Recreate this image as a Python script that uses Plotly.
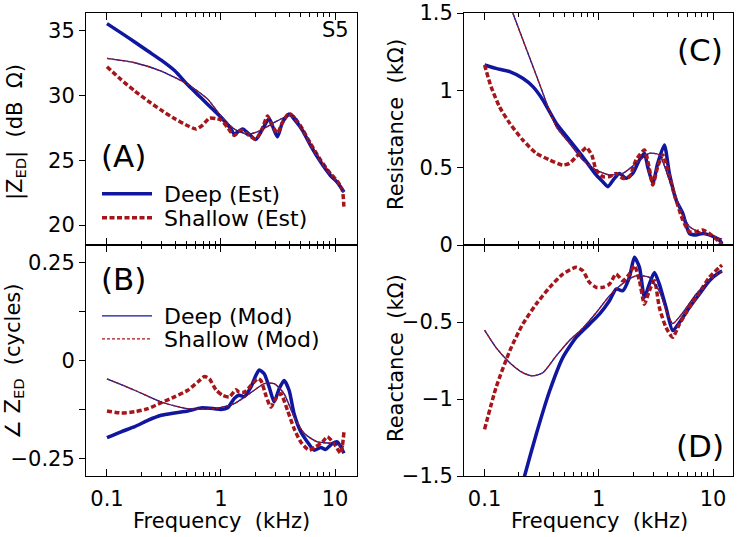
import plotly.graph_objects as go

# ---------------- data ----------------
# Panel A: |Z_ED| (dB Ohm)
A_deep_f = [0.1, 0.133, 0.175, 0.228, 0.299, 0.391, 0.511, 0.668, 0.874, 1.0, 1.223, 1.308, 1.547, 1.77, 2.024, 2.314, 2.647, 2.927, 3.13, 3.461, 3.958, 4.527, 5.18, 6.13, 7.49, 9.16, 10.48, 11.99]
A_deep = [35.51, 34.8, 34.1, 33.4, 32.7, 31.9, 30.8, 29.8, 28.8, 28.3, 27.4, 27.0, 27.4, 27.0, 26.6, 27.4, 28.2, 27.3, 26.8, 27.9, 28.55, 28.0, 27.3, 26.1, 24.85, 23.8, 23.3, 22.55]
A_sh_f = [0.1, 0.133, 0.175, 0.228, 0.299, 0.391, 0.511, 0.604, 0.691, 0.791, 0.904, 1.0, 1.144, 1.308, 1.496, 1.77, 2.024, 2.314, 2.559, 2.83, 3.13, 3.461, 3.958, 4.527, 5.18, 6.13, 7.49, 9.16, 10.48, 11.59, 11.99]
A_sh = [32.19, 31.2, 30.33, 29.57, 28.85, 28.2, 27.65, 27.4, 27.7, 28.24, 28.2, 28.1, 27.5, 26.9, 27.3, 26.9, 26.6, 27.5, 28.4, 27.6, 27.1, 27.9, 28.6, 28.15, 27.4, 26.25, 25.0, 23.95, 23.4, 22.7, 21.3]
A_mod_f = [0.1, 0.175, 0.299, 0.511, 0.764, 1.0, 1.308, 1.711, 2.238, 2.927, 3.828, 4.377, 5.18, 6.13, 7.49, 9.16, 11.99]
A_mod = [32.83, 32.5, 31.86, 30.84, 29.7, 28.4, 27.4, 27.0, 27.3, 27.9, 28.4, 28.4, 27.4, 26.25, 25.0, 23.95, 22.55]

# Panel B: angle Z_ED (cycles)
B_deep_f = [0.1, 0.133, 0.175, 0.228, 0.299, 0.391, 0.511, 0.668, 0.874, 1.0, 1.144, 1.308, 1.446, 1.6, 1.829, 2.024, 2.164, 2.393, 2.647, 2.927, 3.237, 3.579, 3.958, 4.377, 5.01, 5.73, 6.55, 7.49, 8.28, 9.48, 10.48, 11.99]
B_deep = [-0.197, -0.182, -0.169, -0.153, -0.14, -0.134, -0.129, -0.121, -0.123, -0.125, -0.121, -0.097, -0.089, -0.092, -0.068, -0.038, -0.024, -0.034, -0.068, -0.106, -0.072, -0.051, -0.076, -0.136, -0.182, -0.208, -0.229, -0.222, -0.227, -0.212, -0.208, -0.237]
B_sh_f = [0.1, 0.133, 0.175, 0.228, 0.299, 0.391, 0.511, 0.625, 0.715, 0.791, 0.904, 1.034, 1.183, 1.353, 1.446, 1.6, 1.829, 2.093, 2.238, 2.475, 2.737, 3.027, 3.347, 3.828, 4.377, 5.01, 5.93, 6.78, 7.75, 8.57, 9.8, 11.21, 11.99]
B_sh = [-0.129, -0.134, -0.131, -0.123, -0.108, -0.093, -0.076, -0.055, -0.041, -0.047, -0.075, -0.089, -0.093, -0.075, -0.081, -0.081, -0.064, -0.047, -0.051, -0.089, -0.119, -0.097, -0.085, -0.127, -0.174, -0.208, -0.229, -0.22, -0.208, -0.195, -0.212, -0.237, -0.182]
B_mod_f = [0.1, 0.175, 0.299, 0.511, 0.874, 1.308, 1.957, 2.393, 2.927, 3.579, 4.377, 5.36, 7.0, 9.8, 11.99]
B_mod = [-0.047, -0.076, -0.106, -0.123, -0.123, -0.110, -0.076, -0.059, -0.059, -0.085, -0.144, -0.186, -0.208, -0.212, -0.22]

# Panel C: Resistance (kOhm)
C_deep_f = [0.1, 0.126, 0.166, 0.216, 0.265, 0.324, 0.424, 0.554, 0.724, 0.948, 1.084, 1.199, 1.371, 1.516, 1.734, 1.983, 2.27, 2.51, 2.68, 2.97, 3.28, 3.75, 4.15, 4.75, 5.43, 6.21, 7.10, 8.12, 9.29, 11.35, 12.0]
C_deep = [1.164, 1.142, 1.121, 1.078, 1.024, 0.938, 0.787, 0.679, 0.571, 0.453, 0.409, 0.377, 0.431, 0.463, 0.431, 0.463, 0.55, 0.593, 0.506, 0.399, 0.528, 0.647, 0.463, 0.291, 0.205, 0.075, 0.065, 0.075, 0.065, 0.032, 0.01]
C_sh_f = [0.1, 0.114, 0.135, 0.166, 0.216, 0.283, 0.371, 0.484, 0.554, 0.634, 0.724, 0.78, 0.87, 0.948, 1.084, 1.24, 1.418, 1.622, 1.854, 2.12, 2.51, 2.77, 2.97, 3.28, 3.63, 4.15, 4.75, 5.43, 6.21, 7.10, 8.12, 9.29, 11.35, 12.0]
C_sh = [1.164, 1.024, 0.894, 0.787, 0.679, 0.593, 0.55, 0.517, 0.528, 0.571, 0.61, 0.63, 0.58, 0.485, 0.442, 0.442, 0.463, 0.431, 0.442, 0.55, 0.614, 0.496, 0.388, 0.506, 0.582, 0.442, 0.291, 0.162, 0.086, 0.086, 0.097, 0.075, 0.02, 0.0]
C_mod_f = [0.1, 0.177, 0.283, 0.424, 0.554, 0.724, 0.948, 1.24, 1.622, 2.12, 2.77, 3.39, 4.15, 5.08, 6.21, 8.12, 11.35, 12.0]
C_mod = [1.976, 1.498, 1.099, 0.765, 0.657, 0.55, 0.485, 0.453, 0.463, 0.528, 0.593, 0.582, 0.42, 0.248, 0.119, 0.075, 0.043, 0.04]

# Panel D: Reactance (kOhm)
D_deep_f = [0.1, 0.15, 0.2, 0.224, 0.283, 0.371, 0.484, 0.634, 0.829, 1.013, 1.24, 1.418, 1.622, 1.854, 2.05, 2.27, 2.51, 2.77, 3.07, 3.39, 3.88, 4.44, 5.08, 6.21, 7.59, 9.29, 11.35, 12.0]
D_deep = [-2.6, -2.0, -1.65, -1.5, -1.23, -0.948, -0.731, -0.60, -0.514, -0.449, -0.362, -0.286, -0.297, -0.21, -0.08, -0.145, -0.34, -0.254, -0.178, -0.254, -0.406, -0.556, -0.503, -0.406, -0.319, -0.232, -0.178, -0.17]
D_sh_f = [0.1, 0.126, 0.166, 0.216, 0.283, 0.371, 0.484, 0.634, 0.724, 0.829, 0.948, 1.084, 1.24, 1.418, 1.622, 1.854, 2.05, 2.27, 2.51, 2.77, 3.07, 3.39, 3.88, 4.44, 5.08, 6.21, 7.59, 9.29, 11.35, 12.0]
D_sh = [-1.197, -0.926, -0.688, -0.514, -0.384, -0.275, -0.189, -0.145, -0.167, -0.243, -0.275, -0.275, -0.254, -0.189, -0.232, -0.189, -0.134, -0.232, -0.384, -0.297, -0.232, -0.406, -0.536, -0.599, -0.514, -0.406, -0.308, -0.21, -0.145, -0.13]
D_mod_f = [0.1, 0.126, 0.166, 0.216, 0.265, 0.324, 0.424, 0.554, 0.724, 0.948, 1.24, 1.622, 2.12, 2.77, 3.39, 3.88, 4.44, 5.43, 7.10, 9.29, 11.35, 12.0]
D_mod = [-0.553, -0.666, -0.764, -0.829, -0.85, -0.829, -0.72, -0.62, -0.54, -0.44, -0.33, -0.25, -0.2, -0.21, -0.3, -0.42, -0.51, -0.44, -0.32, -0.23, -0.18, -0.17]

x_major = [0.1, 1, 10]
x_major_text = ["0.1", "1", "10"]
x_minor = [0.2, 0.3, 0.4, 0.5, 0.6, 0.7, 0.8, 0.9, 2, 3, 4, 5, 6, 7, 8, 9]

A_ticks = [20, 25, 30, 35]
A_tick_text = ["20", "25", "30", "35"]
B_ticks = [-0.25, 0, 0.25]
B_tick_text = ["\u22120.25", "0", "0.25"]
B_minor = [-0.125, 0.125]
C_ticks = [0, 0.5, 1, 1.5]
C_tick_text = ["0", "0.5", "1", "1.5"]
D_ticks = [-1.5, -1, -0.5]
D_tick_text = ["\u22121.5", "\u22121", "\u22120.5"]
D_right_ticks = [-1.5, -1, -0.5, 0]

# ---------------- styling ----------------
BLUE = "#10169e"
RED = "#a5161b"
FONT = "DejaVu Sans"
W, H = 738, 537

def px_x(p):
    return p / W

def px_y(p):
    return 1 - p / H

fig = go.Figure()

# legend id per panel trace (None -> hidden from legend)
panels = [
    ("x", "y", A_deep_f, A_deep, A_sh_f, A_sh, A_mod_f, A_mod, ("legend", "legend2", None, None)),
    ("x2", "y2", B_deep_f, B_deep, B_sh_f, B_sh, B_mod_f, B_mod, (None, None, "legend3", "legend4")),
    ("x3", "y3", C_deep_f, C_deep, C_sh_f, C_sh, C_mod_f, C_mod, (None, None, None, None)),
    ("x4", "y4", D_deep_f, D_deep, D_sh_f, D_sh, D_mod_f, D_mod, (None, None, None, None)),
]

NB = "\u00a0"
for xa, ya, fd, vd, fs, vs, fm, vm, legs in panels:
    specs = [
        (fd, vd, dict(color=BLUE, width=3.5), NB + "Deep (Est)"),
        (fs, vs, dict(color=RED, width=3.5, dash="5px,2.5px"), NB + "Shallow (Est)"),
        (fm, vm, dict(color=BLUE, width=1.3), NB + "Deep (Mod)"),
        (fm, vm, dict(color=RED, width=1.3, dash="3px,2px"), NB + "Shallow (Mod)"),
    ]
    for (xf, yv, ln, name), lg in zip(specs, legs):
        ln = dict(ln, shape="spline", smoothing=0.6)
        fig.add_trace(go.Scatter(x=xf, y=yv, xaxis=xa, yaxis=ya, mode="lines",
                                 line=ln, name=name, showlegend=lg is not None,
                                 legend=lg or "legend", hoverinfo="skip"))

left_dom = [px_x(86), px_x(357)]
right_dom = [px_x(464), px_x(733)]
top_dom = [px_y(245), px_y(13)]
bot_dom = [px_y(476), px_y(245)]

tickfont = dict(family=FONT, size=21, color="black")

def xaxis(dom, anchor, rng, labels):
    return dict(type="log", domain=dom, anchor=anchor, range=rng,
                tickvals=x_major, ticktext=x_major_text, showticklabels=labels,
                ticks="inside", ticklen=7, tickwidth=1, tickcolor="black",
                minor=dict(tickvals=x_minor, ticks="inside", ticklen=4, tickwidth=1, tickcolor="black", showgrid=False),
                showline=True, linecolor="black", linewidth=1, mirror="ticks",
                showgrid=False, zeroline=False, tickfont=tickfont, ticklabelstandoff=4,
                automargin=False)

def yaxis(dom, anchor, rng, vals, text, minor_vals=None):
    d = dict(domain=dom, anchor=anchor, range=rng, tickvals=vals, ticktext=text,
             ticks="outside", ticklen=6, tickwidth=1, tickcolor="black",
             showline=True, linecolor="black", linewidth=1, mirror=True,
             showgrid=False, zeroline=False, tickfont=tickfont, automargin=False)
    if minor_vals:
        d["minor"] = dict(tickvals=minor_vals, ticks="outside", ticklen=6, tickwidth=1,
                          tickcolor="black", showgrid=False)
    return d

def yaxis_right(dom, anchor, overlay, rng, vals):
    return dict(domain=dom, anchor=anchor, overlaying=overlay, side="right", range=rng,
                tickvals=vals, showticklabels=False, ticks="inside", ticklen=6, tickwidth=1,
                tickcolor="black", showline=False, showgrid=False, zeroline=False,
                automargin=False)

LX = [-1.184, 1.193]
RX = [-1.18, 1.175]
A_rng = [18.47, 36.33]
B_rng = [-0.295, 0.295]
C_rng = [0, 1.5]
D_rng = [-1.5, 0]

def legend_at(y_center):
    return dict(x=px_x(97), y=px_y(y_center), xanchor="left", yanchor="middle",
                bgcolor="rgba(0,0,0,0)", borderwidth=0,
                font=dict(family=FONT, size=22, color="black"), itemwidth=50)

fig.update_layout(
    width=W, height=H,
    margin=dict(l=0, r=0, t=0, b=0, pad=0, autoexpand=False),
    paper_bgcolor="white", plot_bgcolor="white",
    font=dict(family=FONT, size=21, color="black"),
    xaxis=xaxis(left_dom, "y", LX, False),
    yaxis=yaxis(top_dom, "x", A_rng, A_ticks, A_tick_text),
    xaxis2=xaxis(left_dom, "y2", LX, True),
    yaxis2=yaxis(bot_dom, "x2", B_rng, B_ticks, B_tick_text, B_minor),
    xaxis3=xaxis(right_dom, "y3", RX, False),
    yaxis3=yaxis(top_dom, "x3", C_rng, C_ticks, C_tick_text),
    xaxis4=xaxis(right_dom, "y4", RX, True),
    yaxis4=yaxis(bot_dom, "x4", D_rng, D_ticks, D_tick_text),
    yaxis5=yaxis_right(top_dom, "x", "y", A_rng, A_ticks),
    yaxis6=yaxis_right(bot_dom, "x2", "y2", B_rng, B_ticks + B_minor),
    yaxis7=yaxis_right(top_dom, "x3", "y3", C_rng, C_ticks),
    yaxis8=yaxis_right(bot_dom, "x4", "y4", D_rng, D_right_ticks),
    legend=legend_at(194),
    legend2=legend_at(218),
    legend3=legend_at(316),
    legend4=legend_at(339),
    showlegend=True,
    hovermode=False,
)

ann = []
def add_text(text, x, y, size=21, angle=0):
    ann.append(dict(text=text, x=px_x(x), y=px_y(y), xref="paper", yref="paper",
                    showarrow=False, xanchor="center", yanchor="middle", textangle=angle,
                    font=dict(family=FONT, size=size, color="black")))

add_text("|Z<sub>ED</sub>|  (dB  \u03a9)", 16, 132, angle=-90)
add_text("\u2220 Z<sub>ED</sub>  (cycles)", 14, 362, angle=-90)
add_text("Resistance  (k\u03a9)", 396, 125, angle=-90)
add_text("Reactance  (k\u03a9)", 396, 358, angle=-90)
add_text("Frequency  (kHz)", 221, 521)
add_text("Frequency  (kHz)", 599, 521)
add_text("(A)", 123, 156, size=31)
add_text("(B)", 123, 279, size=31)
add_text("(C)", 700, 50, size=31)
add_text("(D)", 700, 446, size=31)
add_text("S5", 335, 30, size=21)
fig.update_layout(annotations=ann)

fig.write_html("out.html", config={"displayModeBar": False, "staticPlot": True},
               post_script="document.body.style.margin='0';document.body.style.overflow='hidden';")
